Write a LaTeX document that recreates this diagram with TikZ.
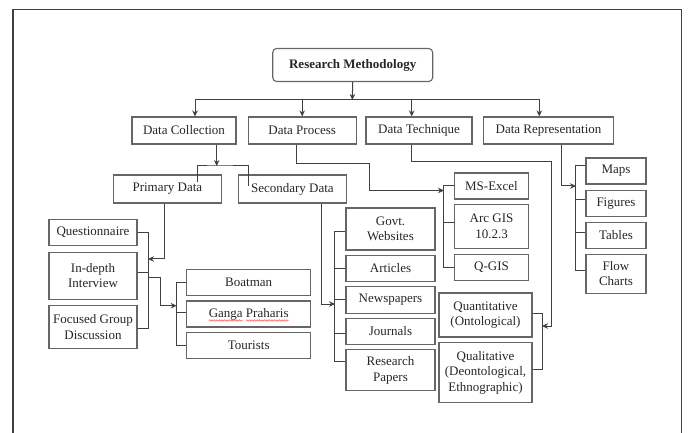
\documentclass[tikz,border=0pt]{standalone}
\usepackage{fontspec}
\setmainfont{Liberation Serif}
\usepackage{tikz}
\usetikzlibrary{shapes.geometric, arrows.meta, positioning, decorations.pathmorphing}
\tikzstyle{topbox} = [rectangle, rounded corners=4pt, minimum width=160pt, minimum height=33pt, text centered, draw=black!60, line width=1.1pt, text=black!85, font=\fontsize{13}{15.5}\selectfont\bfseries]
\tikzstyle{box} = [rectangle, inner sep=1pt, align=center, draw=black!60, line width=1.1pt, text=black!85]
\tikzstyle{line} = [draw=black!75, line width=1pt]
\tikzstyle{arrow} = [draw=black!75, line width=1pt, -{Stealth[length=6pt, width=5.5pt]}]
\tikzstyle{frame} = [draw=black!75, line width=1.5pt]
\tikzstyle{typo} = [draw=red!70, line width=0.5pt, decorate, decoration={snake, amplitude=0.7pt, segment length=2.5pt}]

\begin{document}
\begin{tikzpicture}[x=1pt, y=-1pt, font=\fontsize{13}{15.5}\selectfont]

        \useasboundingbox (0,0) rectangle (689,433);
        \draw [frame] (13,433) -- (13,9.5) -- (681.5,9.5) -- (681.5,433);

        \node (method) [topbox] at (352.7,65) {Research Methodology};

        \node (collect) [box, minimum width=104pt, minimum height=27pt] at (184,130.5) {Data Collection};
        \node (process) [box, minimum width=108pt, minimum height=27pt] at (302.2,130.5) {Data Process};
        \node (technique) [box, minimum width=106pt, minimum height=27pt] at (419,130.5) {Data Technique};
        \node (represent) [box, minimum width=130pt, minimum height=27pt] at (548.5,130.5) {Data Representation};

        \node (primary) [box, minimum width=108pt, minimum height=28pt] at (167.4,189) {Primary Data};
        \node (secondary) [box, minimum width=108pt, minimum height=28pt] at (292.4,189) {Secondary Data};

        \node (quest) [box, minimum width=88pt, minimum height=26pt] at (93,232.5) {Questionnaire};
        \node (interview) [box, minimum width=88pt, minimum height=47pt, below=5.5pt of quest] {In-depth\\Interview};
        \node (focus) [box, minimum width=88pt, minimum height=43pt, below=5.5pt of interview] {Focused Group\\Discussion};

        \node (boat) [box, minimum width=124pt, minimum height=26pt] at (248.7,282.2) {Boatman};
        \node (ganga) [box, minimum width=124pt, minimum height=26pt, below=4.7pt of boat] {Ganga Praharis};
        \node (tourist) [box, minimum width=124pt, minimum height=26pt, below=4.5pt of ganga] {Tourists};

        \node (govt) [box, minimum width=89pt, minimum height=42pt] at (390.5,229) {Govt.\\Websites};
        \node (article) [box, minimum width=89pt, minimum height=26.5pt, below=4pt of govt] {Articles};
        \node (news) [box, minimum width=89pt, minimum height=26.5pt, below=4pt of article] {Newspapers};
        \node (journal) [box, minimum width=89pt, minimum height=26.5pt, below=4pt of news] {Journals};
        \node (paper) [box, minimum width=89pt, minimum height=41pt, below=4pt of journal] {Research\\Papers};

        \node (excel) [box, minimum width=74pt, minimum height=26pt] at (491.5,186) {MS-Excel};
        \node (arcgis) [box, minimum width=74pt, minimum height=44pt, below=4pt of excel] {Arc GIS\\10.2.3};
        \node (qgis) [box, minimum width=74pt, minimum height=26pt, below=5pt of arcgis] {Q-GIS};

        \node (quant) [box, minimum width=93pt, minimum height=44pt] at (485.5,315) {Quantitative\\(Ontological)};
        \node (qual) [box, minimum width=93pt, minimum height=60pt, below=4.7pt of quant] {Qualitative\\(Deontological,\\Ethnographic)};

        \node (maps) [box, minimum width=60pt, minimum height=26pt] at (616,171) {Maps};
        \node (figures) [box, minimum width=60pt, minimum height=26pt, below=5pt of maps] {Figures};
        \node (tables) [box, minimum width=60pt, minimum height=26pt, below=5pt of figures] {Tables};
        \node (flow) [box, minimum width=60pt, minimum height=39pt, below=5pt of tables] {Flow\\Charts};

        \coordinate (bus) at (352.3,100);
        \coordinate (split) at (216.7,166);
        \coordinate (leftbar) at (148,259);
        \coordinate (boatbar) at (176.7,305.7);
        \coordinate (secbar) at (335,304);
        \coordinate (techbar) at (444,190.5);
        \coordinate (quantbar) at (542,326);
        \coordinate (repbar) at (576,186);

        \draw [arrow] (method.south) -- (bus);
        \draw [arrow] (bus) -| ([xshift=11pt]collect.north);
        \draw [arrow] (bus) -| (process.north);
        \draw [arrow] (bus) -| ([xshift=-7.3pt]technique.north);
        \draw [arrow] (bus) -| ([xshift=-9.2pt]represent.north);

        \draw [arrow] ([xshift=32.7pt]collect.south) -- (split);
        \draw [line] ([xshift=30pt, yshift=-8pt]primary.north) |- (split) -| ([xshift=-44pt, yshift=-12pt]secondary.north);

        \draw [arrow] ([xshift=-3.4pt]primary.south) |- (leftbar);
        \draw [line] (quest.east) -- ++(10.5,0) |- ([yshift=-1.5pt]focus.east);
        \draw [line] ([yshift=3pt]interview.east) -- ++(10.5,0);
        \draw [arrow] ([xshift=11pt, yshift=-2pt]interview.east) -- ++(12,0) |- (boatbar);
        \draw [line] (boat.west) -- ++(-10,0) |- (tourist.west);
        \draw [line] ([yshift=2pt]ganga.west) -- ++(-10,0);
        \draw [typo] ([xshift=-40pt, yshift=-6.5pt]ganga.center) -- ([xshift=-6pt, yshift=-6.5pt]ganga.center);
        \draw [typo] ([xshift=-2.5pt, yshift=-6.5pt]ganga.center) -- ([xshift=40pt, yshift=-6.5pt]ganga.center);

        \draw [arrow] ([xshift=29.3pt]secondary.south) |- (secbar);
        \draw [line] ([yshift=-2.7pt]govt.west) -- ++(-11,0) |- ([yshift=8.7pt]paper.west);
        \draw [line] (article.west) -- ++(-11,0);
        \draw [line] (news.west) -- ++(-11,0);
        \draw [line] ([yshift=-1.7pt]journal.west) -- ++(-11,0);

        \draw [arrow] ([xshift=-5.5pt]process.south) |- ++(72.3,19.3) |- (techbar);
        \draw [line] (excel.west) -- ++(-10.5,0) |- (qgis.west);
        \draw [line] ([yshift=3.3pt]arcgis.west) -- ++(-10.5,0);

        \draw [arrow] ([xshift=-7.3pt]technique.south) |- ++(140,16.7) |- (quantbar);
        \draw [line] ([yshift=2pt]quant.east) -- ++(10,0) |- ([yshift=3.4pt]qual.east);

        \draw [arrow] ([xshift=12.5pt]represent.south) |- (repbar);
        \draw [line] ([yshift=5pt]maps.west) -- ++(-10,0) |- ([yshift=3pt]flow.west);
        \draw [line] ([yshift=4pt]figures.west) -- ++(-10,0);
        \draw [line] ([yshift=3pt]tables.west) -- ++(-10,0);

    \end{tikzpicture}
\end{document}
